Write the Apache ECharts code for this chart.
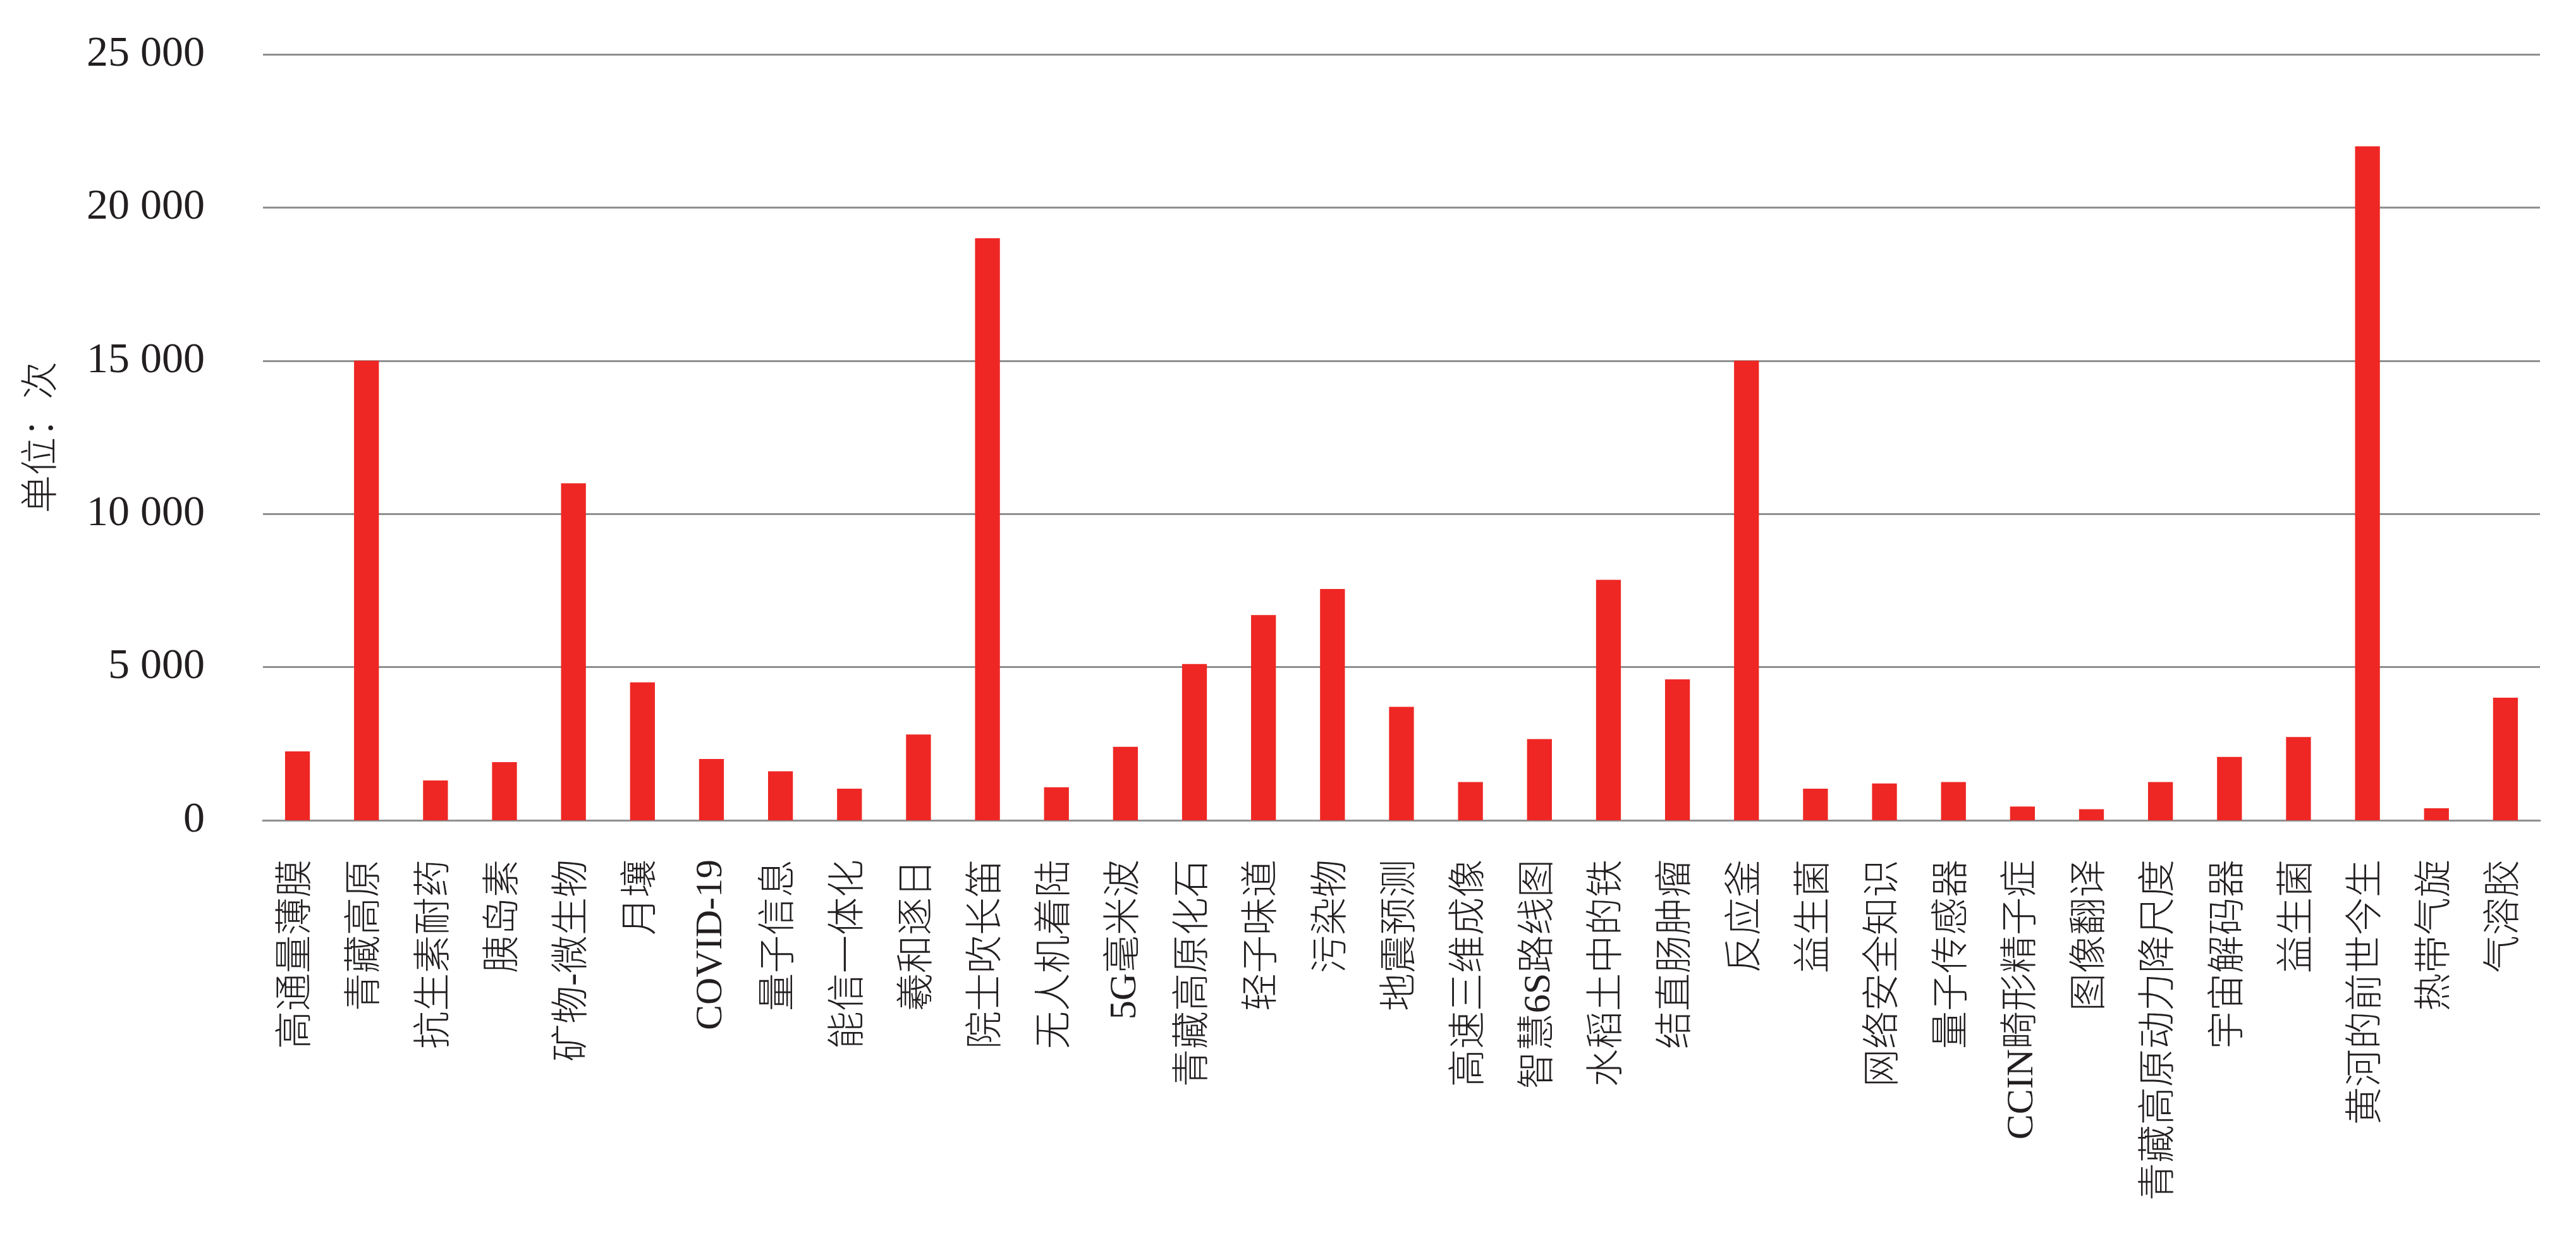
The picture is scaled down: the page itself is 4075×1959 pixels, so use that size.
<!DOCTYPE html>
<html>
<head>
<meta charset="utf-8">
<script src="https://cdn.jsdelivr.net/npm/echarts@6/dist/echarts.min.js"></script>
<style>
html,body{margin:0;padding:0;background:#fff;}
#chart{width:4075px;height:1959px;}
</style>
</head>
<body>
<div id="chart"></div>
<script>
const categories = ['高通量薄膜','青藏高原','抗生素耐药','胰岛素','矿物-微生物','月壤','COVID-19','量子信息','能信一体化','羲和逐日','院士吹长笛','无人机着陆','5G毫米波','青藏高原化石','轻子味道','污染物','地震预测','高速三维成像','智慧6S路线图','水稻土中的铁','结直肠肿瘤','反应釜','益生菌','网络安全知识','量子传感器','CCIN畸形精子症','图像翻译','青藏高原动力降尺度','宇宙解码器','益生菌','黄河的前世今生','热带气旋','气溶胶'];
const values = [2250,15000,1300,1900,11000,4500,2000,1600,1030,2800,19000,1080,2400,5100,6700,7550,3700,1250,2650,7850,4600,15000,1030,1200,1250,450,360,1250,2070,2720,22000,390,4000];
const yMin = 0, yMax = 25000, yStep = 5000;
const yAxisName = '单位：次';

const FONT = "'Liberation Serif','Noto Sans CJK SC',serif";
const chart = echarts.init(document.getElementById('chart'));
chart.setOption({
  animation: false,
  backgroundColor: '#ffffff',
  grid: {left: 416, right: 57, top: 86, bottom: 661, containLabel: false},
  xAxis: {
    type: 'category',
    data: categories,
    axisLine: {show: true, lineStyle: {color: '#8f8f8f', width: 3}},
    axisTick: {show: false},
    axisLabel: {
      rotate: 90, interval: 0, margin: 62,
      fontFamily: FONT, fontSize: 60, fontWeight: 300, color: '#231f20'
    }
  },
  yAxis: {
    type: 'value',
    min: yMin, max: yMax, interval: yStep,
    name: yAxisName,
    nameLocation: 'middle',
    nameRotate: 90,
    nameGap: 318,
    nameTextStyle: {fontFamily: FONT, fontSize: 60, fontWeight: 300, color: '#231f20'},
    axisLine: {show: false},
    axisTick: {show: false},
    splitLine: {show: true, lineStyle: {color: '#8f8f8f', width: 3}},
    axisLabel: {
      margin: 92,
      fontFamily: FONT, fontSize: 68, color: '#231f20',
      formatter: v => String(v).replace(/\B(?=(\d{3})+(?!\d))/g, ' ')
    }
  },
  series: [{
    type: 'bar',
    data: values,
    barWidth: '36%',
    itemStyle: {color: '#ee2724'}
  }]
});
</script>
</body>
</html>
